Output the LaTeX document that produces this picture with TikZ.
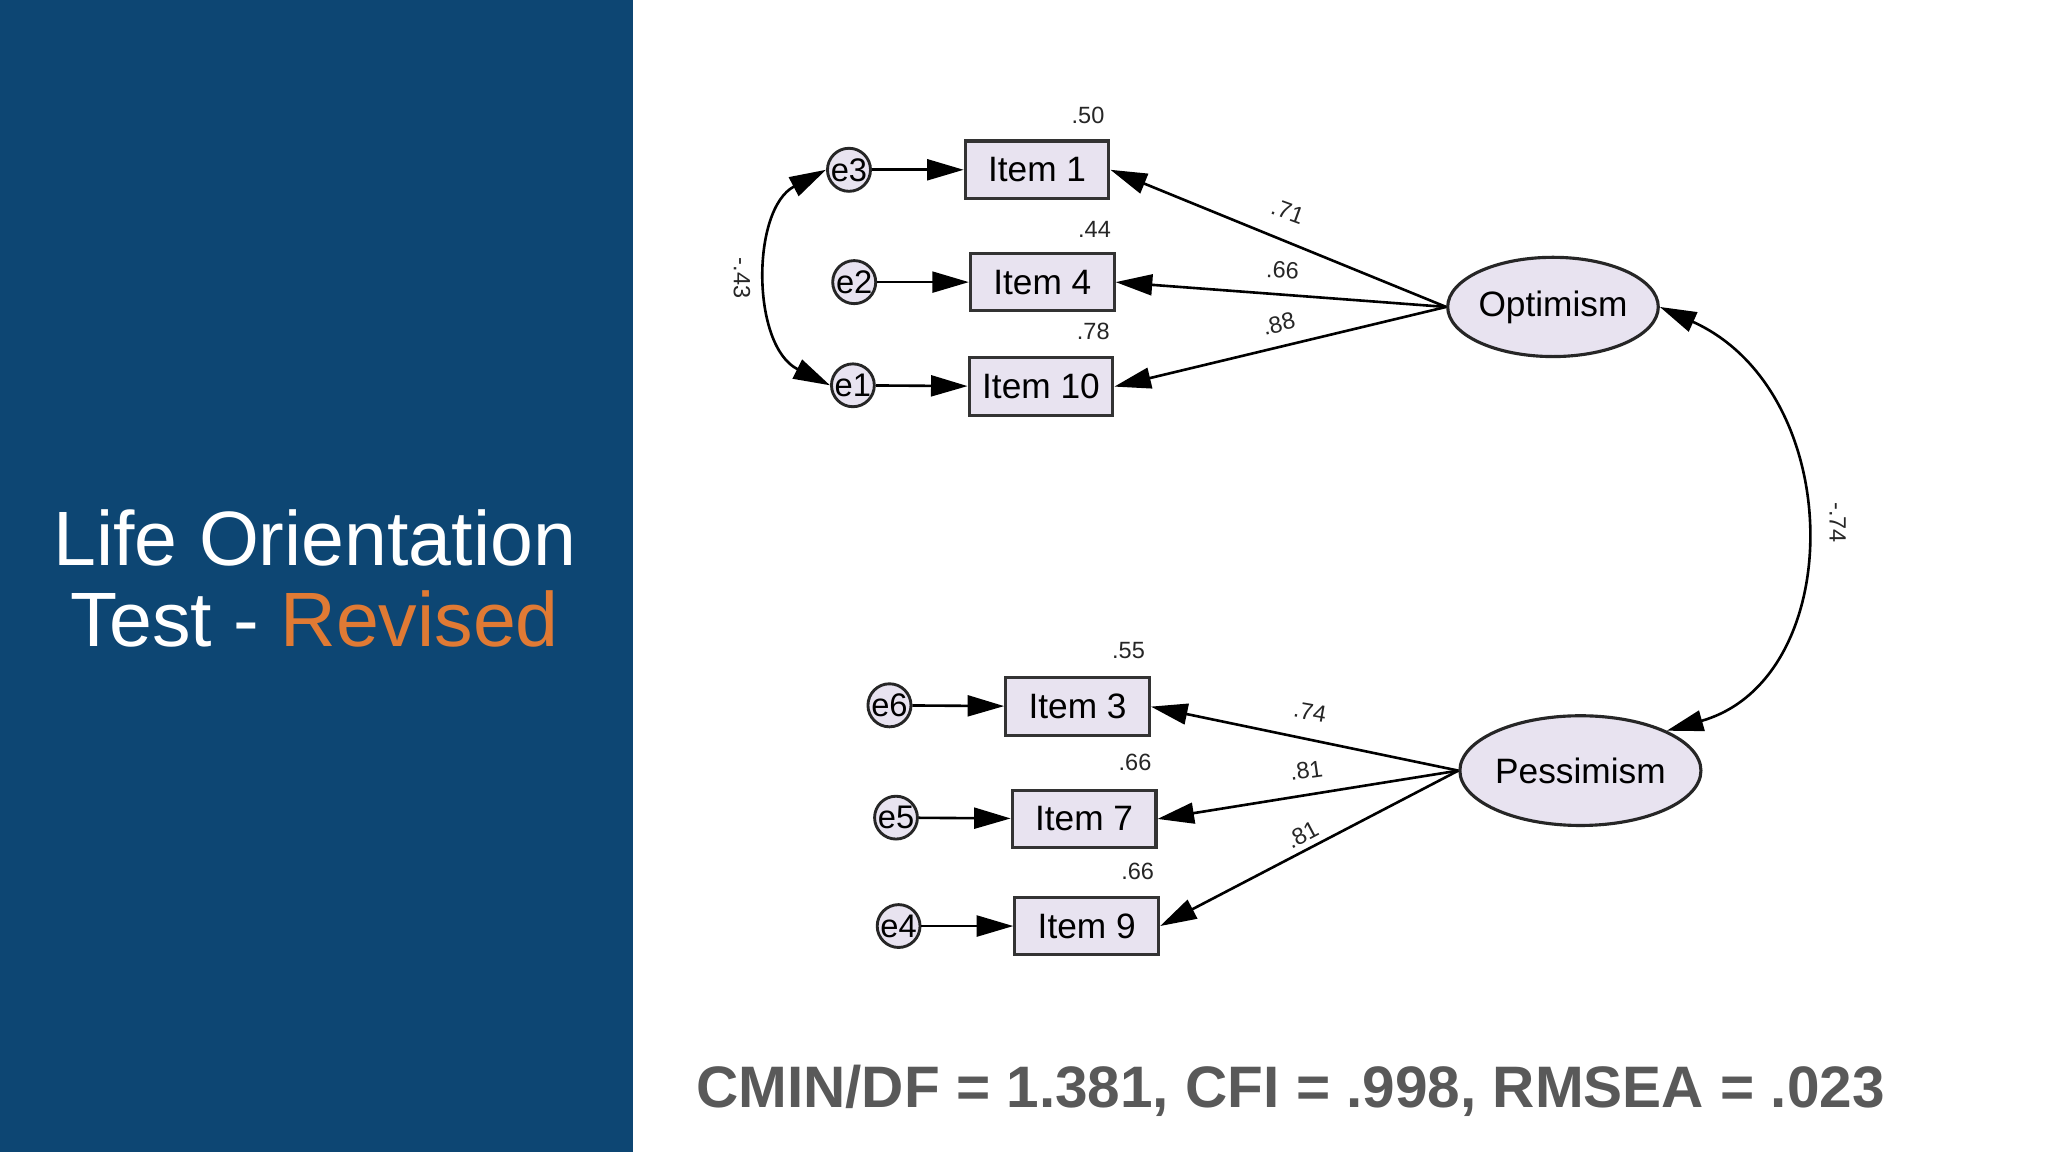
\documentclass[tikz,border=0pt]{standalone}
\usepackage{fontspec}
\setmainfont{Liberation Sans}
\usetikzlibrary{arrows.meta,shapes.geometric}
\definecolor{navy}{HTML}{0D4673}
\definecolor{orng}{HTML}{E07A34}
\definecolor{lav}{HTML}{E8E3F0}
\definecolor{gry}{HTML}{595959}
\begin{document}
\begin{tikzpicture}[x=0.5pt,y=-0.5pt,
 box/.style={draw=black!80,line width=1.2pt,fill=lav,minimum width=55pt,minimum height=22pt,inner sep=0pt,font=\fontsize{13.5}{14}\selectfont},
 err/.style={circle,draw=black!85,line width=1.1pt,fill=lav,minimum size=15pt,inner sep=0pt,font=\fontsize{12.5}{13}\selectfont},
 lat/.style={ellipse,draw=black!85,line width=1.2pt,fill=lav,inner sep=0pt,font=\fontsize{13.5}{14}\selectfont},
 num/.style={font=\fontsize{9}{10}\selectfont,text=black!85},
 arr/.style={line width=1pt,-{Triangle[length=14pt,width=8pt]}},
 darr/.style={line width=1pt,{Triangle[length=14pt,width=8pt]}-{Triangle[length=14pt,width=8pt]}}]
\useasboundingbox (0,0) rectangle (1568,882);
\fill[white] (0,0) rectangle (1568,882);
\fill[navy] (0,0) rectangle (485,882);
\node[text=white,font=\fontsize{29.5}{32}\selectfont] (t1) at (241,412) {Life Orientation};
\node[text=white,font=\fontsize{29.5}{32}\selectfont] (t2) at (241,474) {Test - \textcolor{orng}{Revised}};
\node[box] (i1) at (794,130) {Item 1};
\node[box] (i4) at (798,216) {Item 4};
\node[box] (i10) at (797,296) {Item 10};
\node[box] (i3) at (825,541) {Item 3};
\node[box] (i7) at (830,627) {Item 7};
\node[box] (i9) at (832,709) {Item 9};
\node[err] (e3) at (650,130) {e3};
\node[err] (e2) at (654,216) {e2};
\node[err] (e1) at (653,295) {e1};
\node[err] (e6) at (681,540) {e6};
\node[err] (e5) at (686,626) {e5};
\node[err] (e4) at (688,709) {e4};
\node[lat,minimum width=79pt,minimum height=38pt] (opt) at (1189,235) {Optimism};
\node[lat,minimum width=92pt,minimum height=42pt] (pes) at (1210,590) {Pessimism};
\foreach \e/\i in {e3/i1,e2/i4,e1/i10,e6/i3,e5/i7,e4/i9} \draw[arr] (\e) -- (\i);
\foreach \i in {i1,i4,i10} \draw[arr] (opt.west) -- (\i.east);
\foreach \i in {i3,i7,i9} \draw[arr] (pes.west) -- (\i.east);
\draw[darr] (e3.west) .. controls (575,160) and (575,265) .. (e1.west);
\draw[darr] (opt.east) .. controls (1415,300) and (1415,520) .. (pes.north east);
\node[num] (n1) at (833,88) {.50};
\node[num] (n2) at (838,176) {.44};
\node[num] (n3) at (837,254) {.78};
\node[num] (n4) at (864,498) {.55};
\node[num] (n5) at (869,584) {.66};
\node[num] (n6) at (871,667) {.66};
\node[num,rotate=-20] (l1) at (986,162) {.71};
\node[num,rotate=-3] (l2) at (982,207) {.66};
\node[num,rotate=14] (l3) at (979,248) {.88};
\node[num,rotate=-10] (l4) at (1003,545) {.74};
\node[num,rotate=8] (l5) at (1000,590) {.81};
\node[num,rotate=28] (l6) at (997,639) {.81};
\node[num,rotate=-90] (c1) at (568,213) {-.43};
\node[num,rotate=-90] (c2) at (1407,400) {-.74};
\node[text=gry,font=\bfseries\fontsize{22.4}{25}\selectfont] (fit) at (988,835) {CMIN/DF = 1.381, CFI = .998, RMSEA = .023};
\end{tikzpicture}
\end{document}
